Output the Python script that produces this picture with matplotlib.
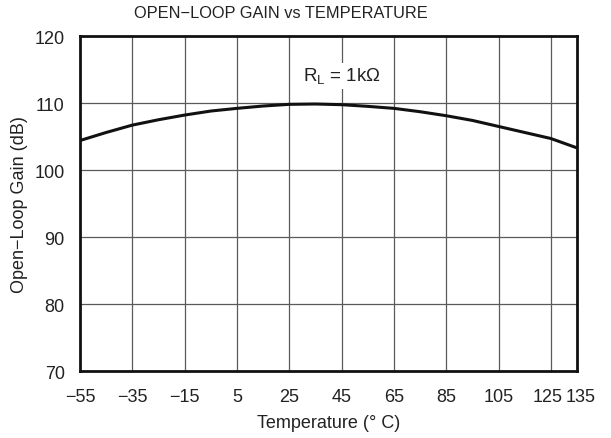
import matplotlib
matplotlib.use("Agg")
import matplotlib.pyplot as plt
from matplotlib.transforms import ScaledTranslation

# Open-loop gain vs temperature, R_L = 1 kOhm
temperature = [-55, -45, -35, -25, -15, -5, 5, 15, 25, 35, 45, 55, 65, 75, 85, 95, 105, 115, 125, 135]
gain_db = [104.4, 105.6, 106.7, 107.5, 108.2, 108.8, 109.2, 109.55, 109.8, 109.85, 109.75, 109.5, 109.2, 108.7, 108.1, 107.4, 106.5, 105.6, 104.7, 103.3]

x_ticks = [-55, -35, -15, 5, 25, 45, 65, 85, 105, 125, 135]
y_ticks = [70, 80, 90, 100, 110, 120]

plt.rcParams['font.family'] = ['Liberation Sans', 'DejaVu Sans']
plt.rcParams['mathtext.fontset'] = 'custom'
plt.rcParams['mathtext.rm'] = 'Liberation Sans'

fig = plt.figure(figsize=(6.11, 4.39), dpi=100)
ax = fig.add_axes([80 / 611, 1 - 372 / 439, 497 / 611, 335 / 439])

ax.set_xlim(-55, 135)
ax.set_ylim(70, 120)
ax.set_xticks(x_ticks)
ax.set_yticks(y_ticks)
ax.tick_params(length=0, labelsize=13, colors='#222222')
ax.tick_params(axis='x', pad=12)
ax.tick_params(axis='y', pad=11)

# nudge the two crowded labels at the right end apart
labels = ax.get_xticklabels()
for lab, dx in ((labels[-2], -3), (labels[-1], 4)):
    lab.set_transform(lab.get_transform() + ScaledTranslation(dx / 100, 0, fig.dpi_scale_trans))

# grid
for xv in x_ticks[1:-1]:
    ax.axvline(xv, color='#5a5a5a', lw=0.9, zorder=1)
for yv in y_ticks[1:-1]:
    ax.axhline(yv, color='#5a5a5a', lw=0.9, zorder=1)

for s in ax.spines.values():
    s.set_linewidth(2.0)
    s.set_color('#111111')

ax.plot(temperature, gain_db, color='#111111', lw=2.2, zorder=3, solid_capstyle='butt')

ax.text(45.2, 114.0, r'R$_\mathregular{L}$ = 1k$\Omega$', ha='center', va='center',
        fontsize=13.5, color='#222222', zorder=4,
        bbox=dict(facecolor='white', edgecolor='none', pad=2))

fig.text(281 / 611, 1 - 14 / 439, 'OPEN\u2212LOOP GAIN vs TEMPERATURE', ha='center', va='center',
         fontsize=11.8, color='#222222')
ax.set_xlabel('Temperature (\u00b0 C)', fontsize=13, color='#222222', labelpad=7)
ax.set_ylabel('Open\u2212Loop Gain (dB)', fontsize=13, color='#222222', labelpad=5)

fig.savefig('out.png', dpi=100)
